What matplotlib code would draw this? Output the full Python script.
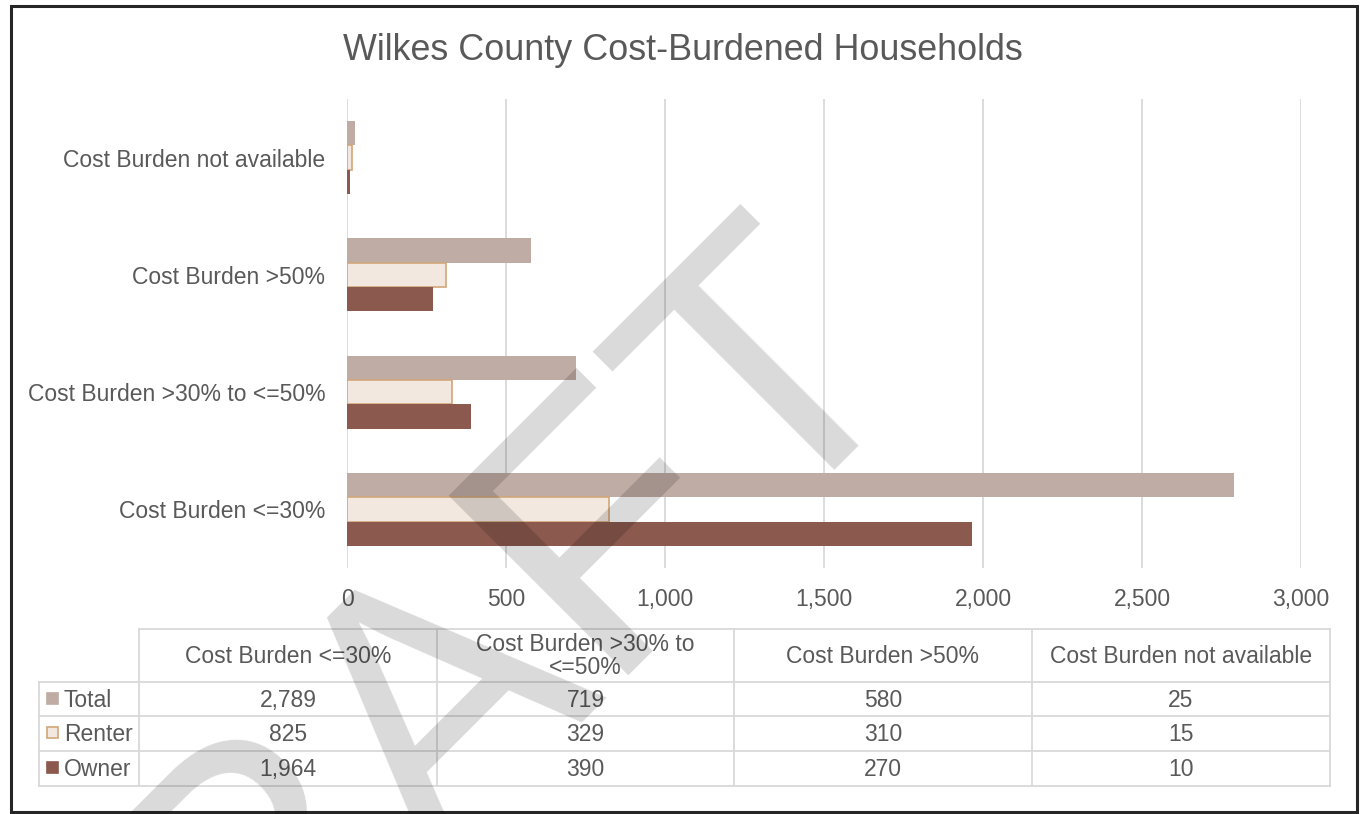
import matplotlib
matplotlib.use("Agg")
import matplotlib.pyplot as plt
from matplotlib.patches import Rectangle
from matplotlib.lines import Line2D
import numpy as np

# ---------------- data ----------------
categories = ["Cost Burden <=30%", "Cost Burden >30% to <=50%",
              "Cost Burden >50%", "Cost Burden not available"]
header_labels = ["Cost Burden <=30%", "Cost Burden >30% to\n<=50%",
                 "Cost Burden >50%", "Cost Burden not available"]
series_names = ["Total", "Renter", "Owner"]
total = [2789, 719, 580, 25]
renter = [825, 329, 310, 15]
owner = [1964, 390, 270, 10]
x_ticks = [0, 500, 1000, 1500, 2000, 2500, 3000]
title = "Wilkes County Cost-Burdened Households"
watermark = "DRAFT"

# ---------------- style ----------------
plt.rcParams['font.family'] = ['Liberation Sans', 'DejaVu Sans']
TEXT = '#595959'
GRID = '#D9D9D9'
C_TOTAL = '#BFACA4'
C_RENTER = '#F2E8E0'
C_RENTER_EDGE = '#D2A679'
C_OWNER = '#8B594E'
FS = 16.5

W, H = 1365, 814
fig = plt.figure(figsize=(W / 100, H / 100), dpi=100)
fig.patch.set_facecolor('white')


def fx(px):
    return px / W


def fy(py):
    return 1 - py / H


# ---------------- chart ----------------
ax_l, ax_r, ax_t, ax_b = 347, 1301, 99, 568
ax = fig.add_axes([fx(ax_l), fy(ax_b), (ax_r - ax_l) / W, (ax_b - ax_t) / H])
y = np.arange(len(categories))
h = 0.208
ax.barh(y + h, total, height=h, color=C_TOTAL, linewidth=0, zorder=2)
ax.barh(y, renter, height=h, color=C_RENTER, edgecolor=C_RENTER_EDGE,
        linewidth=1.2, zorder=2)
ax.barh(y - h, owner, height=h, color=C_OWNER, linewidth=0, zorder=2)

ax.set_xlim(0, 3000)
ax.set_ylim(-0.5, len(categories) - 0.5)
ax.set_xticks(x_ticks)
ax.set_xticklabels([f"{v:,}" for v in x_ticks])
ax.set_yticks(y)
ax.set_yticklabels(categories)
ax.grid(axis='x', color=GRID, linewidth=1.3, zorder=0)
ax.set_axisbelow(True)
for s in ax.spines.values():
    s.set_visible(False)
ax.tick_params(axis='x', length=0, labelsize=FS, labelcolor=TEXT, pad=14.5)
ax.tick_params(axis='y', length=0, labelsize=FS, labelcolor=TEXT, pad=15.5)
ax.set_facecolor('none')

# ---------------- title ----------------
fig.text(fx(683), fy(60), title, ha='center', va='baseline',
         fontsize=25.8, color=TEXT)

# ---------------- data table ----------------
col_edges = [139, 437, 734, 1032, 1330]
label_left = 39
head_top, head_bot = 629, 682
row_edges = [682, 716, 751, 786]
LW = 1.3


def hline(yp, x0, x1):
    fig.add_artist(Line2D([fx(x0), fx(x1)], [fy(yp), fy(yp)],
                          color=GRID, linewidth=LW, transform=fig.transFigure))


def vline(xp, y0, y1):
    fig.add_artist(Line2D([fx(xp), fx(xp)], [fy(y0), fy(y1)],
                          color=GRID, linewidth=LW, transform=fig.transFigure))


hline(head_top, col_edges[0], col_edges[-1])
for yp in row_edges:
    hline(yp, label_left, col_edges[-1])
vline(label_left, row_edges[0], row_edges[-1])
for xp in col_edges:
    vline(xp, head_top, row_edges[-1])

# header texts
for i, lab in enumerate(header_labels):
    cx = (col_edges[i] + col_edges[i + 1]) / 2
    lines = lab.split("\n")
    if len(lines) == 1:
        fig.text(fx(cx), fy(663), lab, ha='center', va='baseline',
                 fontsize=FS, color=TEXT)
    else:
        for j, ln in enumerate(lines):
            fig.text(fx(cx), fy(651 + 23 * j), ln, ha='center', va='baseline',
                     fontsize=FS, color=TEXT)

# rows
series_values = [total, renter, owner]
key_face = [C_TOTAL, C_RENTER, C_OWNER]
key_edge = [C_TOTAL, C_RENTER_EDGE, C_OWNER]
baselines = [707, 741, 776]
key_tops = [693, 727, 762]
for r, name in enumerate(series_names):
    ks = 11
    fig.add_artist(Rectangle((fx(47), fy(key_tops[r] + ks)), ks / W, ks / H,
                             facecolor=key_face[r], edgecolor=key_edge[r],
                             linewidth=1.2, transform=fig.transFigure))
    fig.text(fx(64), fy(baselines[r]), name, ha='left', va='baseline',
             fontsize=FS, color=TEXT)
    for i, v in enumerate(series_values[r]):
        cx = (col_edges[i] + col_edges[i + 1]) / 2
        fig.text(fx(cx), fy(baselines[r]), f"{v:,}", ha='center',
                 va='baseline', fontsize=FS, color=TEXT)

# ---------------- border ----------------
fig.add_artist(Rectangle((fx(10.5), fy(812)), (1356.5 - 10.5) / W,
                         (812 - 5.5) / H, facecolor='none',
                         edgecolor='#262626', linewidth=2.2,
                         transform=fig.transFigure))

# ---------------- watermark ----------------
fig.text(fx(483), fy(790), watermark, rotation=45, rotation_mode='anchor',
         ha='center', va='baseline', fontsize=266, color='black', alpha=0.15,
         zorder=100)

fig.savefig("out.png", dpi=100, facecolor='white')
